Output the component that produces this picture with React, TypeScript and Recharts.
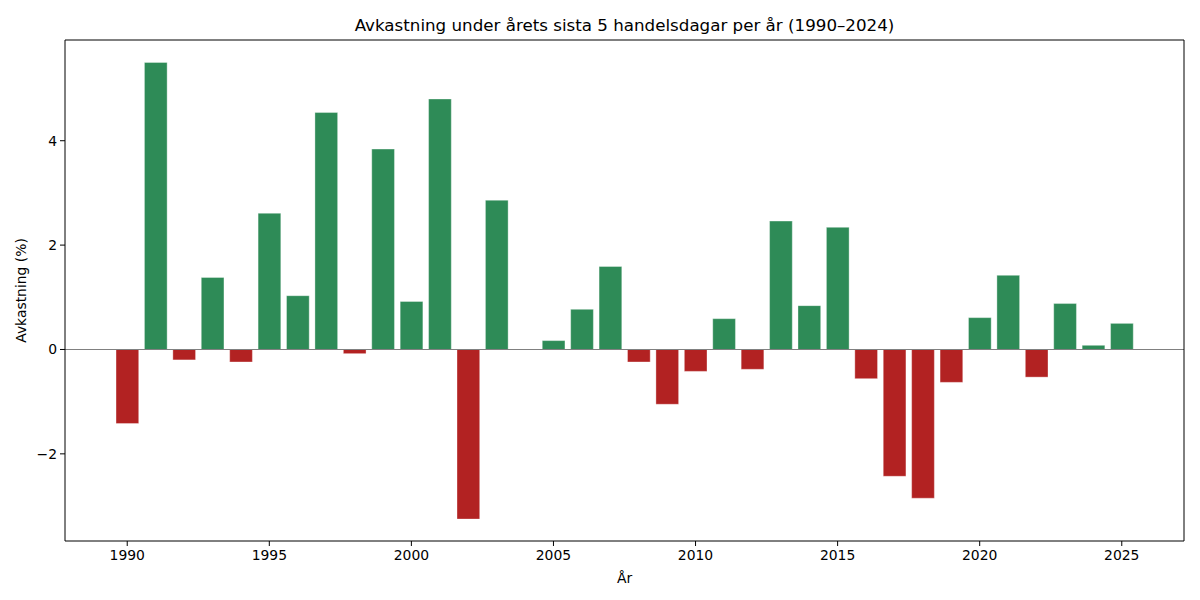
import { BarChart, Bar, Cell, XAxis, YAxis, ReferenceLine } from 'recharts';

// År (2004 saknas i underlaget)
const years = [
  1990, 1991, 1992, 1993, 1994, 1995, 1996, 1997, 1998, 1999,
  2000, 2001, 2002, 2003, 2005, 2006, 2007, 2008, 2009,
  2010, 2011, 2012, 2013, 2014, 2015, 2016, 2017, 2018, 2019,
  2020, 2021, 2022, 2023, 2024, 2025,
];

// Avkastning (%) sista 5 handelsdagarna
const returns = [
  -1.42, 5.5, -0.2, 1.38, -0.24, 2.61, 1.03, 4.54, -0.08, 3.84,
  0.92, 4.8, -3.25, 2.86, 0.17, 0.77, 1.59, -0.24, -1.05,
  -0.42, 0.59, -0.38, 2.46, 0.84, 2.34, -0.56, -2.43, -2.85, -0.63,
  0.61, 1.42, -0.53, 0.88, 0.08, 0.5,
];

const xTicks = [1990, 1995, 2000, 2005, 2010, 2015, 2020, 2025];
const yTicks = [-2, 0, 2, 4];

const GREEN = '#2e8b57';
const RED = '#b22222';
const FONT = 'DejaVu Sans';

// plot area, matches margins/axis sizes below
const PL = 65, PT = 40, PR = 1184, PB = 541;

const data = years.map((year, i) => ({ year, value: returns[i] }));

const fmtY = (v: number) => String(v).replace('-', '\u2212');

export default function App() {
  return (
    <div style={{ position: 'absolute', left: 0, top: 0, width: 1200, height: 600, background: '#fff', fontFamily: FONT }}>
      <BarChart width={1200} height={600} data={data} margin={{ top: PT, right: 1200 - PR, bottom: 0, left: 0 }}>
        <XAxis
          dataKey="year"
          type="number"
          domain={[1987.81, 2027.19]}
          ticks={xTicks}
          allowDataOverflow
          height={600 - PB}
          tickSize={5}
          tickMargin={4}
          stroke="#000"
          tick={{ fill: '#000', fontSize: 13.9, fontFamily: FONT }}
          label={{
            content: () => (
              <text x={(PL + PR) / 2} y={583} textAnchor="middle" fontSize={13.9} fontFamily={FONT} fill="#000">År</text>
            ),
          }}
        />
        <YAxis
          type="number"
          domain={[-3.67, 5.93]}
          ticks={yTicks}
          allowDataOverflow
          width={PL}
          tickSize={5}
          tickMargin={3}
          stroke="#000"
          tickFormatter={fmtY}
          tick={{ fill: '#000', fontSize: 13.9, fontFamily: FONT }}
          label={{
            content: () => (
              <text
                x={26}
                y={(PT + PB) / 2}
                transform={`rotate(-90, 26, ${(PT + PB) / 2})`}
                textAnchor="middle"
                fontSize={13.9}
                fontFamily={FONT}
                fill="#000"
              >
                Avkastning (%)
              </text>
            ),
          }}
        />
        <Bar dataKey="value" barSize={22.7} isAnimationActive={false} stroke="#ffffff" strokeOpacity={0.5} strokeWidth={0.7}>
          {data.map((d, i) => (
            <Cell key={`c-${i}`} fill={d.value >= 0 ? GREEN : RED} />
          ))}
        </Bar>
        <ReferenceLine y={0} stroke="#808080" strokeWidth={1.1} />
      </BarChart>
      {/* title and the top/right spines */}
      <svg width={1200} height={600} style={{ position: 'absolute', left: 0, top: 0, pointerEvents: 'none' }}>
        <text x={(PL + PR) / 2} y={31} textAnchor="middle" fontSize={16.7} fontFamily={FONT} fill="#000">
          Avkastning under årets sista 5 handelsdagar per år (1990–2024)
        </text>
        <polyline points={`${PL},${PT} ${PR},${PT} ${PR},${PB}`} fill="none" stroke="#000" strokeWidth={1} />
      </svg>
    </div>
  );
}
